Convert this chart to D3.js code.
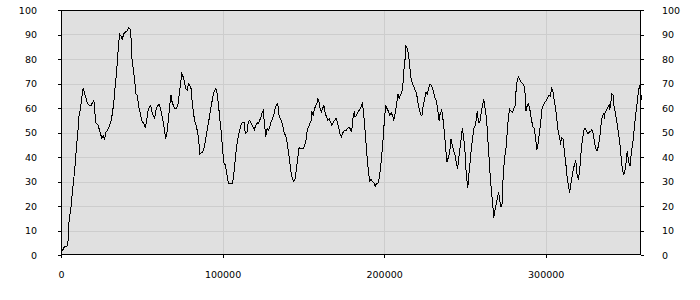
<!DOCTYPE html>
<html>
<head>
<meta charset="utf-8">
<script src="https://cdn.jsdelivr.net/npm/d3@7/dist/d3.min.js"></script>
<style>
  html, body { margin: 0; padding: 0; background: #fff; }
  #chart { width: 700px; height: 300px; }
  .axis text { font-family: 'DejaVu Sans', sans-serif; font-size: 9.5px; fill: #000; }
  .axis line { stroke: #000; }
</style>
</head>
<body>
<div id="chart"></div>
<script>
const xPositions = [
  800, 2100, 3700, 4100, 4600, 5000, 6200, 7000, 7900, 8700, 9500, 10400, 11200, 12000, 12800, 13700,
  14500, 15300, 16100, 17000, 17800, 18600, 19500, 20300, 20700, 21100, 21500, 21900, 22800, 23600,
  24400, 25300, 26100, 26900, 27700, 28600, 29400, 30200, 31100, 31900, 32700, 33500, 34400, 35200,
  36000, 36400, 37300, 38100, 38500, 39300, 40200, 41000, 41800, 42700, 43500, 43900, 44700, 45500,
  46400, 47200, 48000, 48900, 49700, 50500, 51300, 52200, 53000, 53800, 54700, 55500, 56300, 57100,
  58000, 58600, 59400, 60700, 61500, 62300, 63100, 64000, 64800, 65600, 66500, 67300, 68100, 68500,
  69400, 70200, 71400, 72300, 73100, 73900, 74700, 75600, 76400, 77200, 78100, 78900, 79700, 80500,
  81400, 82200, 83000, 83900, 84700, 85500, 85900, 86700, 87600, 88400, 89200, 90100, 90900, 91700,
  92500, 93400, 94200, 95000, 95900, 96700, 97500, 98300, 99200, 100000, 100800, 101700, 102500,
  103300, 104100, 105000, 105800, 106600, 107500, 108300, 109100, 110000, 110800, 111600, 112400,
  113300, 114100, 115100, 115900, 116800, 117600, 118400, 119700, 120500, 121300, 122200, 123000,
  123800, 124600, 125100, 125900, 126700, 127600, 128400, 129200, 130000, 130800, 131700, 132500,
  133300, 134200, 135000, 135800, 136600, 137500, 138300, 139100, 139900, 140800, 141600, 142400,
  143200, 144100, 144900, 145700, 146600, 147400, 148200, 149100, 149900, 150700, 151600, 152400,
  153200, 154000, 154900, 155300, 156100, 156900, 157800, 158600, 159000, 159800, 160200, 161100,
  161900, 162700, 163600, 164400, 165200, 166000, 166900, 167700, 168500, 169400, 170200, 171000,
  171800, 172700, 173500, 174100, 174900, 175800, 176600, 177400, 178300, 179100, 179900, 180700,
  181600, 182000, 182800, 183600, 184500, 185300, 186100, 186500, 187000, 187800, 188600, 189400,
  190300, 191100, 191900, 192800, 193600, 194400, 195200, 196100, 196900, 197700, 198500, 199400,
  200200, 201000, 201900, 202700, 203500, 204300, 205200, 206000, 206800, 207700, 208500, 209300,
  210100, 211000, 211800, 212200, 213000, 213500, 214300, 215100, 215900, 216800, 217600, 218400,
  219300, 220100, 220900, 221700, 222600, 223400, 224200, 225100, 225900, 226700, 227500, 228400,
  229200, 230000, 230800, 231700, 232300, 233100, 234000, 234400, 235200, 235600, 236400, 237300,
  238100, 238900, 239800, 240600, 241400, 242200, 243100, 243900, 244700, 245500, 246400, 247200,
  248000, 248400, 249300, 250100, 250900, 251800, 252200, 253000, 253800, 254700, 255500, 256300,
  257100, 257600, 258400, 259200, 260000, 260900, 261700, 262500, 263400, 264200, 265000, 265800,
  266700, 267500, 267900, 268700, 269600, 270400, 270800, 271600, 272000, 272900, 273700, 274500,
  275400, 276200, 277000, 277800, 278700, 279500, 280300, 281200, 281600, 282400, 283200, 284100,
  284900, 285700, 286500, 287400, 287800, 288600, 289400, 290300, 291100, 292100, 292900, 293800,
  294600, 295400, 296300, 297100, 297900, 298800, 299600, 300400, 301200, 302100, 302900, 303700,
  304500, 305400, 306200, 307000, 307900, 308700, 309100, 309900, 310800, 311600, 312400, 313200,
  314100, 314900, 315700, 316600, 317400, 318200, 318600, 319500, 320300, 321100, 321900, 322800,
  323600, 324400, 325200, 326100, 326900, 327700, 328600, 329400, 330200, 331000, 331900, 332700,
  333500, 334400, 335200, 336000, 336400, 336800, 337700, 338500, 339300, 339700, 340600, 341000,
  341800, 342200, 343100, 343900, 344700, 345500, 346400, 346800, 347600, 348400, 349300, 350100,
  350500, 351300, 352200, 352600, 353400, 354200, 355100, 355900, 356700, 357500, 358000, 358800,
  359600
];

const values = [
  1.6, 3.4, 3.7, 4.0, 7.8, 14, 19.4, 25.5, 31, 36.5, 43.3, 50, 57, 59.7, 63.8, 67.9,
  66.3, 64.5, 62.4, 61.3, 61, 61, 62.2, 63.1, 61, 57, 54.2, 53.6, 53.1, 51.5,
  49.5, 47.7, 48.8, 47, 50.1, 50.8, 51.8, 53.1, 54.9, 58.3, 62.4, 68.6, 74.7, 82.2,
  88.4, 90, 89.3, 87.7, 89.8, 90.7, 91.1, 91.4, 92.8, 92.2, 87.7, 80.2, 76.1, 72,
  65.8, 65.2, 61, 58.3, 55.6, 54.2, 53.6, 51.8, 54.9, 58.6, 60.4, 61.1, 58.6, 57,
  55.9, 58.6, 60.4, 61.7, 59.7, 57.7, 54.9, 51.5, 47.4, 50.1, 55.6, 61.1, 65.2, 63.1,
  61.3, 60, 59.7, 61.1, 65.2, 69.3, 74, 72.7, 70.6, 67.9, 67.2, 69.9, 69.3, 67.9,
  61.1, 57, 54.2, 52.2, 49.5, 44.7, 41.3, 41.7, 42, 43.3, 46, 49.5, 52.9, 55.6,
  59, 62.4, 65.2, 67.2, 67.9, 65.8, 61.1, 55.6, 50.1, 43.3, 37.8, 36.7, 33.7,
  30.3, 29, 29, 29, 31, 36.5, 42, 46, 49.5, 51.5, 53.6, 54,
  54, 49.5, 50.1, 54.2, 55, 54, 52.9, 51.2, 52.9, 54, 53.6, 55,
  56.3, 58.3, 59, 54.2, 48.1, 51.5, 50.8, 52.2, 54.2, 55.6, 57, 59.7,
  61.1, 61.7, 57, 55.6, 54.2, 52.2, 49.5, 48.8, 46, 42, 37.8, 33.7,
  31, 29.9, 31, 35.1, 39.9, 44, 43.3, 43.6, 43.3, 44.4, 46.7, 50.8,
  52.2, 53.6, 54.9, 58.6, 57, 59.7, 61.1, 62.4, 63.8, 62.4, 60.4, 58.3,
  59.7, 61.1, 57.7, 56.3, 54.9, 55.6, 54.2, 52.9, 54.2, 54.9, 55.9, 54.5,
  52.2, 49.5, 48.1, 49.5, 50.4, 50.8, 50.8, 51.8, 52.2, 51.5, 50.1, 55.6,
  58.6, 56.3, 57, 58.1, 59, 60, 61.1, 61.7, 59.7, 54.2, 47.4, 40.6,
  33.7, 30.3, 31, 29.9, 29.6, 28, 29, 29, 31, 35.1, 40.6, 47.4,
  55.6, 60.8, 59.7, 58.6, 57, 58.1, 57, 54.9, 57.7, 61.1, 65.8, 63.8,
  65.2, 66.5, 70.6, 75.4, 80.2, 85.2, 84.3, 82.2, 76.8, 71.3, 69.9, 68.6,
  67.2, 65.8, 62.4, 59.7, 57.2, 57, 61.1, 63.8, 66.5, 65.8, 67.9, 69.9,
  69.3, 67.9, 65.8, 63.8, 63.1, 59.7, 54.9, 57, 58.3, 59.7, 55.6, 50.1,
  43.3, 38.1, 39.9, 42, 47.4, 44.7, 42.6, 40.6, 37.8, 35.1, 40.6, 44.7,
  48.8, 51.8, 47.4, 42, 32.4, 27.2, 31, 36.5, 42, 47.4, 51.5, 52.9,
  55.6, 58.6, 54.2, 54, 57.7, 61.1, 63.5, 59.7, 55.6, 47.4, 39.2, 31,
  24.2, 18.7, 15.3, 18.7, 21.4, 24.2, 25.5, 22.8, 19.8, 19.8, 32.4, 39.2,
  43.3, 50.1, 57, 59.4, 58.6, 58.3, 59.7, 61.1, 66.5, 71.3, 72.7, 71.3,
  70.4, 69.9, 69.3, 65.2, 58.6, 61.1, 61.7, 59, 55.6, 52.2, 51.8, 47.4,
  43, 46, 50.8, 55.6, 60.4, 61.3, 62.4, 63.1, 64.1, 65.2, 64.8, 67.9,
  66.8, 62.4, 59.7, 54.9, 49.5, 48.1, 45, 47.8, 47.4, 42, 37.8, 32.4,
  28.3, 25.5, 29.6, 33.1, 35.8, 37.8, 38.9, 32.4, 30.7, 35.1, 42, 47.4,
  50.8, 51.8, 50.8, 49.5, 50.1, 50.4, 51.2, 49.5, 46, 43.3, 42.6, 44.7,
  48.1, 54.2, 57, 57.7, 55.6, 58.3, 59, 60.4, 61.1, 59.4, 63.8, 65.8,
  65.2, 61.1, 58.3, 54.9, 51.5, 47.4, 43.3, 38.5, 34.4, 32.7, 35.1, 40,
  42.6, 37.8, 36.5, 39.2, 43.3, 47.4, 53.6, 58.3, 62.4, 67.2, 69.3, 65.8,
  63.1
];

const xTicks = [0, 100000, 200000, 300000];
const yTicks = [0, 10, 20, 30, 40, 50, 60, 70, 80, 90, 100];

const margin = Object.freeze({
  top: 10,
  right: 59,
  bottom: 45,
  left: 61
});

class TraceChart {
  constructor (el, xs, ys) {
    this.el = el;
    this.data = xs.map((x, i) => ({ x: x, value: ys[i] }));
  }

  createChart () {
    this.width = 700;
    this.height = 300;
    this.graphWidth = this.width - margin.left - margin.right;
    this.graphHeight = this.height - margin.top - margin.bottom;

    this.svg = d3.select(this.el).append('svg')
      .attr('width', this.width)
      .attr('height', this.height);

    this.graphLayer = this.svg.append('g')
      .attr('transform', `translate(${margin.left}, ${margin.top})`);

    this.x = d3.scaleLinear().domain([0, 359000]).range([0, this.graphWidth]);
    this.y = d3.scaleLinear().domain([0, 100]).range([this.graphHeight, 0]);

    this._drawBackground();
    this._drawGrid();
    this._drawLine();
    this._drawFrame();
    this._drawAxes();
    return this;
  }

  _drawBackground () {
    this.graphLayer.append('rect')
      .attr('width', this.graphWidth)
      .attr('height', this.graphHeight)
      .attr('fill', '#e0e0e0');
  }

  _drawGrid () {
    const grid = this.graphLayer.append('g')
      .attr('stroke', '#cdcdcd')
      .attr('shape-rendering', 'crispEdges');

    grid.selectAll('.h')
      .data(yTicks.slice(1, -1))
      .enter().append('line')
      .attr('x1', 0)
      .attr('x2', this.graphWidth)
      .attr('y1', d => Math.round(this.y(d)) + 0.5)
      .attr('y2', d => Math.round(this.y(d)) + 0.5);

    grid.selectAll('.v')
      .data(xTicks.slice(1))
      .enter().append('line')
      .attr('y1', 0)
      .attr('y2', this.graphHeight)
      .attr('x1', d => Math.round(this.x(d)) + 0.5)
      .attr('x2', d => Math.round(this.x(d)) + 0.5);
  }

  _drawLine () {
    const line = d3.line()
      .x(d => this.x(d.x))
      .y(d => this.y(d.value));

    // the original is drawn without anti-aliasing
    this.graphLayer.append('path')
      .datum(this.data)
      .attr('d', line)
      .attr('fill', 'none')
      .attr('stroke', '#000')
      .attr('stroke-width', 1)
      .attr('shape-rendering', 'crispEdges');
  }

  _drawFrame () {
    this.graphLayer.append('rect')
      .attr('x', 0.5)
      .attr('y', 0.5)
      .attr('width', this.graphWidth - 1)
      .attr('height', this.graphHeight - 1)
      .attr('fill', 'none')
      .attr('stroke', '#000')
      .attr('shape-rendering', 'crispEdges');
  }

  _drawAxes () {
    const left = this.graphLayer.append('g')
      .attr('class', 'axis')
      .call(d3.axisLeft(this.y).tickValues(yTicks).tickSize(3).tickPadding(21));

    const right = this.graphLayer.append('g')
      .attr('class', 'axis')
      .attr('transform', `translate(${this.graphWidth}, 0)`)
      .call(d3.axisRight(this.y).tickValues(yTicks).tickSize(3).tickPadding(18));

    const bottom = this.graphLayer.append('g')
      .attr('class', 'axis')
      .attr('transform', `translate(0, ${this.graphHeight})`)
      .call(d3.axisBottom(this.x).tickValues(xTicks).tickSize(3).tickPadding(13).tickFormat(d3.format('d')));

    [left, right, bottom].forEach(g => {
      g.select('.domain').remove();
      g.attr('shape-rendering', 'crispEdges');
    });
  }
}

new TraceChart(document.getElementById('chart'), xPositions, values).createChart();
</script>
</body>
</html>
